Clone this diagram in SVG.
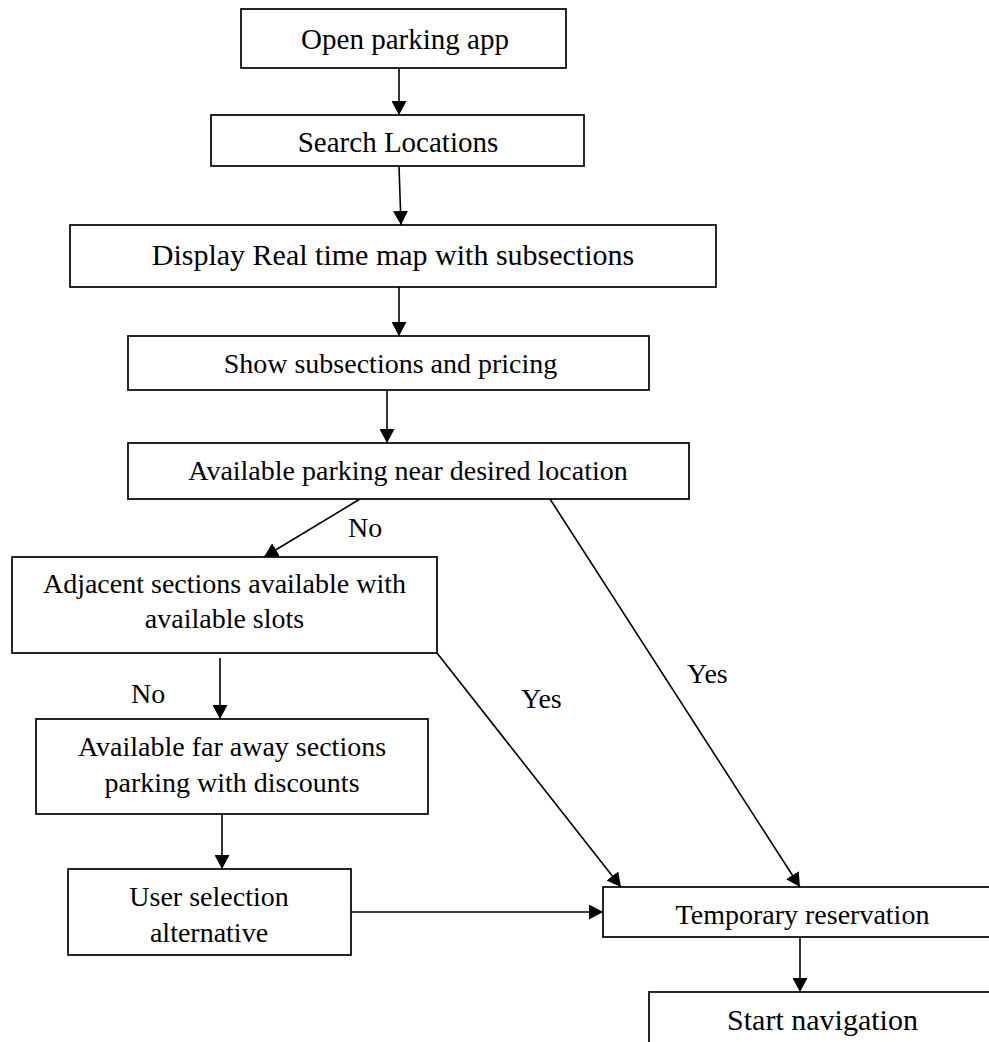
<svg xmlns="http://www.w3.org/2000/svg" width="989" height="1042" viewBox="0 0 989 1042">
<style>
.box{fill:#fff;stroke:#000;stroke-width:1.7}
.t{font-family:"Liberation Serif","Times New Roman",serif;font-size:28px;fill:#000;text-anchor:middle}
.lbl{font-family:"Liberation Serif","Times New Roman",serif;font-size:28px;fill:#000}
.c{fill:none;stroke:#000;stroke-width:1.6}
</style>
<defs>
<marker id="ah" markerUnits="userSpaceOnUse" markerWidth="15" markerHeight="15" refX="14" refY="7.5" orient="auto" viewBox="0 0 15 15">
<path d="M0,0 L14,7.5 L0,15 Z" fill="#000"/>
</marker>
</defs>
<rect width="989" height="1042" fill="#fff"/>
<g id="connectors">
<line class="c" x1="399" y1="68" x2="399" y2="115" marker-end="url(#ah)"/>
<line class="c" x1="399" y1="166" x2="401" y2="225" marker-end="url(#ah)"/>
<line class="c" x1="399" y1="287" x2="399" y2="336" marker-end="url(#ah)"/>
<line class="c" x1="387" y1="390" x2="387" y2="443" marker-end="url(#ah)"/>
<line class="c" x1="360" y1="499" x2="264" y2="557" marker-end="url(#ah)"/>
<line class="c" x1="550" y1="499" x2="800" y2="887" marker-end="url(#ah)"/>
<line class="c" x1="437" y1="653" x2="621" y2="887" marker-end="url(#ah)"/>
<line class="c" x1="220" y1="658" x2="220" y2="719" marker-end="url(#ah)"/>
<line class="c" x1="222" y1="814" x2="222" y2="869" marker-end="url(#ah)"/>
<line class="c" x1="351" y1="912" x2="603" y2="912" marker-end="url(#ah)"/>
<line class="c" x1="800" y1="937" x2="800" y2="992" marker-end="url(#ah)"/>
<text class="lbl" x="348" y="537">No</text>
<text class="lbl" x="131" y="703">No</text>
<text class="lbl" x="687" y="683">Yes</text>
<text class="lbl" x="521" y="708">Yes</text>
</g>
<g id="n1"><rect class="box" x="241" y="9" width="325" height="59"/><text class="t" x="405" y="49" style="font-size:29px">Open parking app</text></g>
<g id="n2"><rect class="box" x="211" y="115" width="373" height="51"/><text class="t" x="398" y="152" style="font-size:29px">Search Locations</text></g>
<g id="n3"><rect class="box" x="70" y="225" width="646" height="62"/><text class="t" x="393" y="265" style="font-size:30px">Display Real time map with subsections</text></g>
<g id="n4"><rect class="box" x="128" y="336" width="521" height="54"/><text class="t" x="390.5" y="373">Show subsections and pricing</text></g>
<g id="n5"><rect class="box" x="128" y="443" width="561" height="56"/><text class="t" x="408" y="480">Available parking near desired location</text></g>
<g id="n6"><rect class="box" x="12" y="557" width="425" height="96"/><text class="t" x="224.5" y="593">Adjacent sections available with</text><text class="t" x="224.5" y="628">available slots</text></g>
<g id="n7"><rect class="box" x="36" y="719" width="392" height="95"/><text class="t" x="232" y="756">Available far away sections</text><text class="t" x="232" y="792">parking with discounts</text></g>
<g id="n8"><rect class="box" x="68" y="869" width="283" height="86"/><text class="t" x="209" y="906">User selection</text><text class="t" x="209" y="942">alternative</text></g>
<g id="n9"><rect class="box" x="603" y="887" width="400" height="50"/><text class="t" x="802.5" y="924">Temporary reservation</text></g>
<g id="n10"><rect class="box" x="649" y="992" width="348" height="70"/><text class="t" x="822.5" y="1030" style="font-size:30px">Start navigation</text></g>
</svg>
